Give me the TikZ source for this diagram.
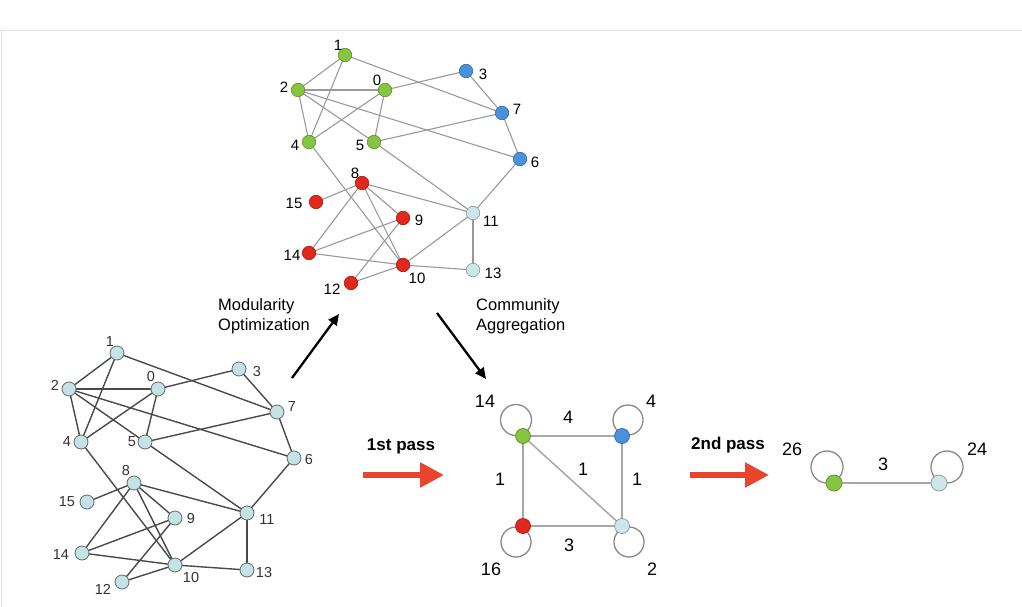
\documentclass[tikz,border=0pt]{standalone}
\usepackage{fontspec}
\setmainfont{Liberation Sans}
\usetikzlibrary{arrows.meta}
\definecolor{cgreen}{HTML}{86C540}
\definecolor{cgreenD}{HTML}{5E8F2A}
\definecolor{cblue}{HTML}{4A92DC}
\definecolor{cblueD}{HTML}{2F6AA8}
\definecolor{cred}{HTML}{E0281C}
\definecolor{credD}{HTML}{A81A12}
\definecolor{clight}{HTML}{CFE6E8}
\definecolor{clightD}{HTML}{7C9A9E}
\definecolor{cplain}{HTML}{C6E2E5}
\definecolor{cplainD}{HTML}{5A6E70}
\definecolor{tedge}{HTML}{9A9A9A}
\definecolor{bedge}{HTML}{4A4A4A}
\definecolor{medge}{HTML}{A8A8A8}
\definecolor{loopc}{HTML}{8A8A8A}
\definecolor{parrow}{HTML}{E8442E}
\definecolor{framec}{HTML}{E2E2E2}
\tikzset{
  tn/.style={circle,inner sep=0pt,minimum size=13.5pt,line width=0.6pt},
  gn/.style={tn,fill=cgreen,draw=cgreenD},
  bn/.style={tn,fill=cblue,draw=cblueD},
  rn/.style={tn,fill=cred,draw=credD},
  ln/.style={tn,fill=clight,draw=clightD},
  pn/.style={circle,inner sep=0pt,minimum size=14pt,fill=cplain,draw=cplainD,line width=0.8pt},
  mn/.style={circle,inner sep=0pt,minimum size=15pt,line width=0.7pt},
  tl/.style={inner sep=0pt,font=\fontsize{15}{17}\selectfont},
  bl/.style={inner sep=0pt,text=black!80,font=\fontsize{14.5}{16}\selectfont},
  ml/.style={inner sep=0pt,font=\fontsize{18}{20}\selectfont},
  te/.style={draw=tedge,line width=1.1pt},
  be/.style={draw=bedge,line width=1.4pt},
  me/.style={draw=medge,line width=1.5pt},
  lp/.style={draw=loopc,line width=1.3pt},
  txt/.style={inner sep=0pt,align=left,font=\fontsize{16.5}{20}\selectfont},
  passtxt/.style={inner sep=0pt,font=\bfseries\fontsize{17}{19}\selectfont},
  blackarrow/.style={line width=2.3pt,-{Triangle[length=11pt,width=10pt]}},
  redarrow/.style={draw=parrow,line width=5.5pt,-{Triangle[length=24pt,width=24pt]}}
}
\begin{document}
\begin{tikzpicture}[x=1pt,y=-1pt]
\useasboundingbox (0,0) rectangle (1022,607);
\fill[white] (0,0) rectangle (1022,607);
\draw[framec,line width=1pt] (0,30.5) -- (1022,30.5);
\draw[framec,line width=1pt] (1.5,30.5) -- (1.5,607);

% ---------- top graph: node positions ----------
\coordinate (t1) at (345,55);
\coordinate (t2) at (298,90);
\coordinate (t0) at (385,90);
\coordinate (t3) at (466,71);
\coordinate (t7) at (502,113);
\coordinate (t4) at (309,142);
\coordinate (t5) at (374,142);
\coordinate (t6) at (520,159);
\coordinate (t8) at (362,183);
\coordinate (t15) at (316,202);
\coordinate (t9) at (403,218);
\coordinate (t11) at (473,213);
\coordinate (t14) at (309,253);
\coordinate (t10) at (403,265);
\coordinate (t13) at (473,270);
\coordinate (t12) at (351,283);
% ---------- bottom-left graph: node positions ----------
\coordinate (b1) at (117,353);
\coordinate (b2) at (69,389);
\coordinate (b0) at (158,389);
\coordinate (b3) at (239,369);
\coordinate (b7) at (277,412);
\coordinate (b4) at (81,442);
\coordinate (b5) at (145,442);
\coordinate (b6) at (294,458);
\coordinate (b8) at (134,483);
\coordinate (b15) at (87,502);
\coordinate (b9) at (175,518);
\coordinate (b11) at (247,513);
\coordinate (b14) at (82,553);
\coordinate (b10) at (175,565);
\coordinate (b13) at (247,570);
\coordinate (b12) at (122,582);

% edges
\foreach \a/\b in {1/2,1/4,1/7,2/0,2/4,2/5,2/6,0/4,0/5,0/3,3/7,7/5,7/6,5/11,4/10,6/11,8/15,8/14,8/9,8/10,8/11,9/14,9/12,14/10,10/12,10/11,10/13,11/13}{
  \draw[te] (t\a) -- (t\b);
  \draw[be] (b\a) -- (b\b);
}

% top graph nodes
\node[gn] (n1) at (t1) {};
\node[gn] (n2) at (t2) {};
\node[gn] (n0) at (t0) {};
\node[bn] (n3) at (t3) {};
\node[bn] (n7) at (t7) {};
\node[gn] (n4) at (t4) {};
\node[gn] (n5) at (t5) {};
\node[bn] (n6) at (t6) {};
\node[rn] (n8) at (t8) {};
\node[rn] (n15) at (t15) {};
\node[rn] (n9) at (t9) {};
\node[ln] (n11) at (t11) {};
\node[rn] (n14) at (t14) {};
\node[rn] (n10) at (t10) {};
\node[ln] (n13) at (t13) {};
\node[rn] (n12) at (t12) {};
\node[tl] (t1l) at (338,45) {1};
\node[tl] (t2l) at (284,87) {2};
\node[tl] (t0l) at (377,80) {0};
\node[tl] (t3l) at (483,74) {3};
\node[tl] (t7l) at (517,109) {7};
\node[tl] (t4l) at (295,145) {4};
\node[tl] (t5l) at (360,145) {5};
\node[tl] (t6l) at (535,162) {6};
\node[tl] (t8l) at (355,173) {8};
\node[tl] (t15l) at (294,203) {15};
\node[tl] (t9l) at (419,220) {9};
\node[tl] (t11l) at (491,221) {11};
\node[tl] (t14l) at (292,255) {14};
\node[tl] (t10l) at (417,278) {10};
\node[tl] (t13l) at (493,273) {13};
\node[tl] (t12l) at (332,289) {12};

% bottom graph nodes
\foreach \n in {1,2,0,3,7,4,5,6,8,15,9,11,14,10,13,12}{
  \node[pn] (p\n) at (b\n) {};
}
\node[bl] (b1l) at (110,342) {1};
\node[bl] (b2l) at (55,385) {2};
\node[bl] (b0l) at (151,377) {0};
\node[bl] (b3l) at (257,372) {3};
\node[bl] (b7l) at (292,407) {7};
\node[bl] (b4l) at (67,442) {4};
\node[bl] (b5l) at (132,442) {5};
\node[bl] (b6l) at (309,460) {6};
\node[bl] (b8l) at (126,471) {8};
\node[bl] (b15l) at (67,502) {15};
\node[bl] (b9l) at (191,519) {9};
\node[bl] (b11l) at (267,520) {11};
\node[bl] (b14l) at (61,555) {14};
\node[bl] (b10l) at (191,578) {10};
\node[bl] (b13l) at (264,573) {13};
\node[bl] (b12l) at (103,589) {12};

% ---------- middle aggregated graph ----------
\coordinate (mgc) at (516,420);
\coordinate (mbc) at (628,420);
\coordinate (mrc) at (516,542);
\coordinate (mlc) at (629,542);
\draw[lp] (mgc) circle (15.5);
\draw[lp] (mbc) circle (15);
\draw[lp] (mrc) circle (15);
\draw[lp] (mlc) circle (15);
\coordinate (mgp) at (523,436);
\coordinate (mbp) at (622,436);
\coordinate (mrp) at (523,526);
\coordinate (mlp) at (622,526);
\draw[me] (mgp) -- (mbp);
\draw[me] (mgp) -- (mrp);
\draw[me] (mgp) -- (mlp);
\draw[me] (mbp) -- (mlp);
\draw[me] (mrp) -- (mlp);
\node[mn,fill=cgreen,draw=cgreenD] (mg) at (mgp) {};
\node[mn,fill=cblue,draw=cblueD] (mb) at (mbp) {};
\node[mn,fill=cred,draw=credD] (mr) at (mrp) {};
\node[mn,fill=clight,draw=clightD] (ml) at (mlp) {};
\node[ml] (w14) at (485,401) {14};
\node[ml] (w4b) at (651,401) {4};
\node[ml] (w4) at (568,417) {4};
\node[ml] (w1a) at (500,479) {1};
\node[ml] (w1b) at (583,469) {1};
\node[ml] (w1c) at (637,479) {1};
\node[ml] (w3) at (569,545) {3};
\node[ml] (w16) at (491,569) {16};
\node[ml] (w2) at (652,569) {2};

% ---------- right graph ----------
\coordinate (rgc) at (827,467);
\coordinate (rlc) at (947,467);
\draw[lp] (rgc) circle (16);
\draw[lp] (rlc) circle (16);
\coordinate (rgp) at (834,483);
\coordinate (rlp) at (939,483);
\draw[me] (rgp) -- (rlp);
\node[mn,minimum size=16pt,fill=cgreen,draw=cgreenD] (rg) at (rgp) {};
\node[mn,minimum size=16pt,fill=clight,draw=clightD] (rl) at (rlp) {};
\node[ml] (r26) at (792,449) {26};
\node[ml] (r24) at (977,449) {24};
\node[ml] (r3) at (883,464) {3};

% ---------- arrows and texts ----------
\coordinate (a1s) at (292,378);
\coordinate (a1e) at (339,314);
\coordinate (a2s) at (437,313);
\coordinate (a2e) at (486,379);
\draw[blackarrow] (a1s) -- (a1e);
\draw[blackarrow] (a2s) -- (a2e);
\node[txt,anchor=west] (mo) at (218,316) {Modularity\\Optimization};
\node[txt,anchor=west] (ca) at (476,316) {Community\\Aggregation};

\coordinate (p1s) at (363,475);
\coordinate (p1e) at (444,475);
\coordinate (p2s) at (690,475);
\coordinate (p2e) at (769,475);
\draw[redarrow] (p1s) -- (p1e);
\draw[redarrow] (p2s) -- (p2e);
\node[passtxt] (pass1) at (401,446) {1st pass};
\node[passtxt] (pass2) at (728,445) {2nd pass};
\end{tikzpicture}
\end{document}
